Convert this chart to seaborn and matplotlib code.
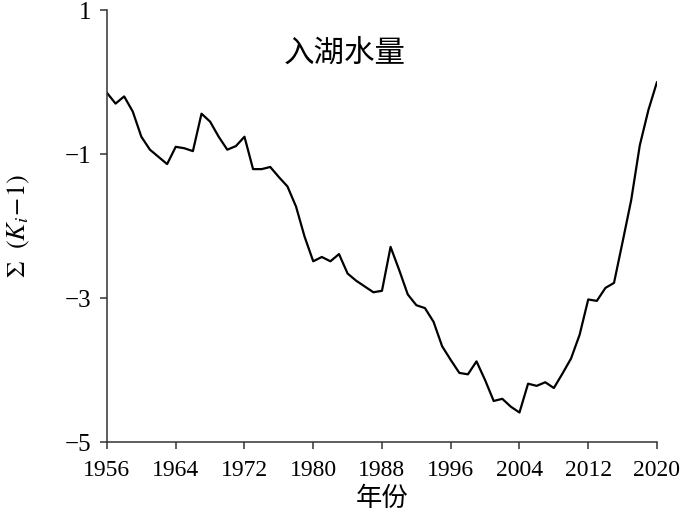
import numpy as np
import pandas as pd
import matplotlib
matplotlib.use("Agg")
import matplotlib.pyplot as plt
import seaborn as sns

# ==================================
# DATA
# ==================================
years = list(range(1956, 2021))
cum_k = [
    -0.15, -0.30, -0.20, -0.41, -0.76, -0.94, -1.04, -1.14, -0.90, -0.92,
    -0.96, -0.44, -0.55, -0.76, -0.94, -0.89, -0.76, -1.21, -1.21, -1.18,
    -1.32, -1.45, -1.73, -2.15, -2.49, -2.43, -2.49, -2.39, -2.66, -2.76,
    -2.84, -2.92, -2.90, -2.29, -2.61, -2.95, -3.10, -3.14, -3.33, -3.67,
    -3.86, -4.04, -4.06, -3.88, -4.14, -4.43, -4.40, -4.51, -4.59, -4.19,
    -4.22, -4.17, -4.25, -4.05, -3.84, -3.51, -3.02, -3.04, -2.86, -2.79,
    -2.22, -1.64, -0.88, -0.39, 0.00,
]
x_ticks = list(range(1956, 2021, 8))
y_ticks = [-5, -3, -1, 1]
y_tick_labels = ["\u22125", "\u22123", "\u22121", "1"]
title_text = "入湖水量"
x_label = "年份"
y_label = r"$\Sigma\ \ (K_i\!-\!1)$"

df = pd.DataFrame({"year": years, "value": cum_k})

# ==================================
# STYLE
# ==================================
sns.set_style("ticks")
plt.rcParams["font.family"] = ["Liberation Serif", "Noto Sans CJK SC"]
plt.rcParams["mathtext.fontset"] = "stix"
plt.rcParams["axes.edgecolor"] = "#333333"
plt.rcParams["axes.linewidth"] = 1.1

fig = plt.figure(figsize=(6.87, 5.21), dpi=100)
ax = fig.add_axes([0.1557, 0.1516, 0.8006, 0.8292])

sns.lineplot(data=df, x="year", y="value", color="black", linewidth=1.6, ax=ax)
sns.despine(ax=ax)

ax.set_xlim(1956, 2020)
ax.set_ylim(-5, 1)
ax.set_xticks(x_ticks)
ax.set_xticklabels([str(t) for t in x_ticks], fontsize=17)
ax.set_yticks(y_ticks)
ax.set_yticklabels(y_tick_labels, fontsize=18)
ax.tick_params(direction="out", length=5, width=1.1, color="#333333",
               labelcolor="black")
ax.tick_params(axis="x", pad=8)
ax.tick_params(axis="y", pad=6)

ax.text(0.433, 0.90, title_text, transform=ax.transAxes, ha="center", va="center",
        fontsize=22, family=["Noto Sans CJK SC"], color="black")
ax.set_xlabel(x_label, fontsize=19, family=["Noto Sans CJK SC"], labelpad=3,
              color="black")
ax.set_ylabel(y_label, fontsize=19, labelpad=24, color="black")

plt.savefig("out.png", dpi=100)
